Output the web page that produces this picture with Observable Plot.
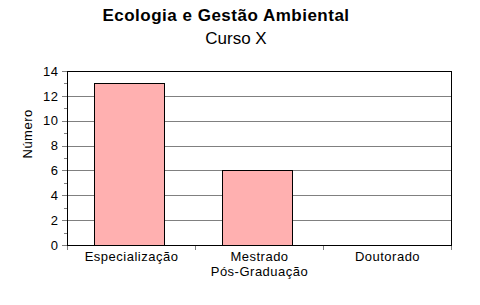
<!DOCTYPE html>
<html>
<head>
<meta charset="utf-8">
<script src="https://cdn.jsdelivr.net/npm/d3@7"></script>
<script src="https://cdn.jsdelivr.net/npm/@observablehq/plot@0.6"></script>
<style>
  html, body { margin: 0; padding: 0; background: #fff; }
  #wrap { position: relative; width: 480px; height: 305px; font-family: "Liberation Sans", Arial, sans-serif; }
  #title { position: absolute; left: 0; width: 452px; top: 6px; text-align: center; font-weight: bold; font-size: 17px; color: #000; letter-spacing: 0.5px; }
  #subtitle { position: absolute; left: 0; width: 472px; top: 29px; text-align: center; font-size: 17px; color: #000; }
  svg rect, svg line, svg path { shape-rendering: crispEdges; }
  svg text { letter-spacing: 0.5px; }
</style>
</head>
<body>
<div id="wrap">
  <div id="chart"></div>
  <div id="title">Ecologia e Gestão Ambiental</div>
  <div id="subtitle">Curso X</div>
</div>
<script>
const categories = ["Especialização", "Mestrado", "Doutorado"];
const values = [13, 6, 0];
const majorTicks = [0, 2, 4, 6, 8, 10, 12, 14];
const minorTicks = [1, 3, 5, 7, 9, 11, 13];
const gridTicks = [2, 4, 6, 8, 10, 12];
const xLabel = "Pós-Graduação";
const yLabel = "Número";

const data = categories.map((c, i) => ({category: c, value: values[i]}));

const step = (480 - 67 - 29) / categories.length;

const chart = Plot.plot({
  width: 480,
  height: 305,
  marginLeft: 67,
  marginRight: 29,
  marginTop: 71,
  marginBottom: 60,
  style: {fontFamily: "Liberation Sans, Arial, sans-serif", fontSize: "13px", color: "#000", background: "#fff"},
  x: {domain: categories, paddingInner: 0.45, paddingOuter: 0.225, label: null},
  y: {domain: [0, 14], label: null},
  marks: [
    Plot.gridY(gridTicks, {stroke: "#808080", strokeOpacity: 1}),
    Plot.barY(data, {x: "category", y: "value", fill: "#FFB0B0", stroke: "#000", strokeWidth: 1, dx: -1.5}),
    Plot.axisY(majorTicks, {tickSize: 5, tickPadding: 4, stroke: "#808080", fill: "#000", fontSize: 13, tickFormat: d => String(d)}),
    Plot.axisY(minorTicks, {tickSize: 3, text: null, stroke: "#808080"}),
    Plot.axisX({tickSize: 0, tickPadding: 6, fontSize: 13, fill: "#000"}),
    Plot.ruleX(categories, {x: d => d, dx: -step / 2, y1: 0, y2: -0.4, stroke: "#808080"}),
    Plot.ruleX([categories[categories.length - 1]], {x: d => d, dx: step / 2, y1: 0, y2: -0.4, stroke: "#808080"}),
    Plot.frame({stroke: "#000", strokeWidth: 1}),
    Plot.text([xLabel], {frameAnchor: "bottom", dy: 21, fontSize: 13, fill: "#000", text: d => d, lineAnchor: "top"}),
    Plot.text([yLabel], {frameAnchor: "left", dx: -40, rotate: -90, fontSize: 13, fill: "#000", text: d => d})
  ]
});
document.getElementById("chart").appendChild(chart);
</script>
</body>
</html>
